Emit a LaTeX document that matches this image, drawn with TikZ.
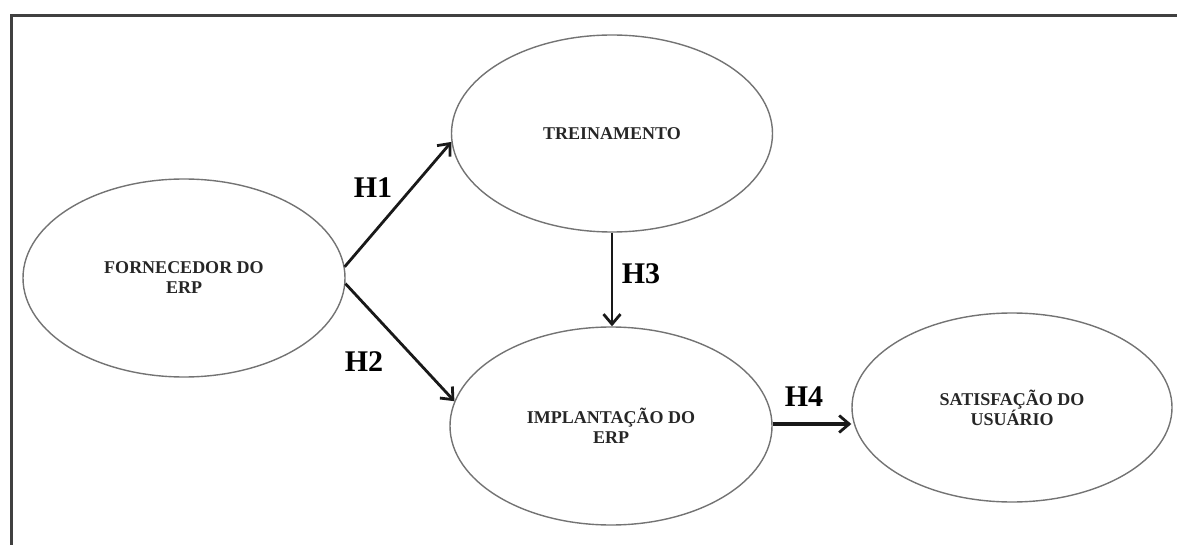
\documentclass[tikz,border=0pt]{standalone}
\usepackage{fontspec}
\setmainfont{Liberation Serif}
\usetikzlibrary{shapes.geometric,arrows.meta}
\begin{document}
\begin{tikzpicture}[x=1pt,y=-1pt,
  construct/.style={ellipse,draw=black!55,line width=1.4pt,inner sep=0pt,
    align=center,text=black!85,font=\fontsize{18}{20}\selectfont\bfseries},
  hyp/.style={font=\fontsize{30}{32}\selectfont\bfseries,inner sep=0pt},
  arr/.style={-{Straight Barb[length=10pt,width=17pt,line width=2.8pt]},line width=2.8pt,black!90},
  framebar/.style={line width=3pt,black!75}]
\useasboundingbox (0,0) rectangle (1177,545);
\coordinate (ftl) at (11,16);
\coordinate (ftr) at (1177,16);
\coordinate (fbl) at (11,545);
\draw[framebar] (ftr) -- (ftl) -- (fbl);
\node[construct,minimum width=322pt,minimum height=198pt] (forn) at (184,278) {FORNECEDOR DO\\ERP};
\node[construct,minimum width=321pt,minimum height=197pt] (trein) at (612,133.5) {TREINAMENTO};
\node[construct,minimum width=322pt,minimum height=198pt] (impl) at (611,426) {IMPLANTAÇÃO DO\\ERP};
\node[construct,minimum width=320pt,minimum height=189pt] (sat) at (1012,407.5) {SATISFAÇÃO DO\\USUÁRIO};
\draw[arr] (forn.4) -- (trein.183);
\draw[arr] (forn.-2) -- (impl.171);
\draw[arr] (trein.south) -- (trein.south |- impl.north);
\draw[arr,line width=3.6pt] ([yshift=2pt]impl.east) -- ([yshift=2pt]impl.east -| sat.west);
\node[hyp] (h1) at (373,188) {H1};
\node[hyp] (h2) at (364,362) {H2};
\node[hyp] (h3) at (641,274) {H3};
\node[hyp] (h4) at (804,397) {H4};
\end{tikzpicture}
\end{document}
